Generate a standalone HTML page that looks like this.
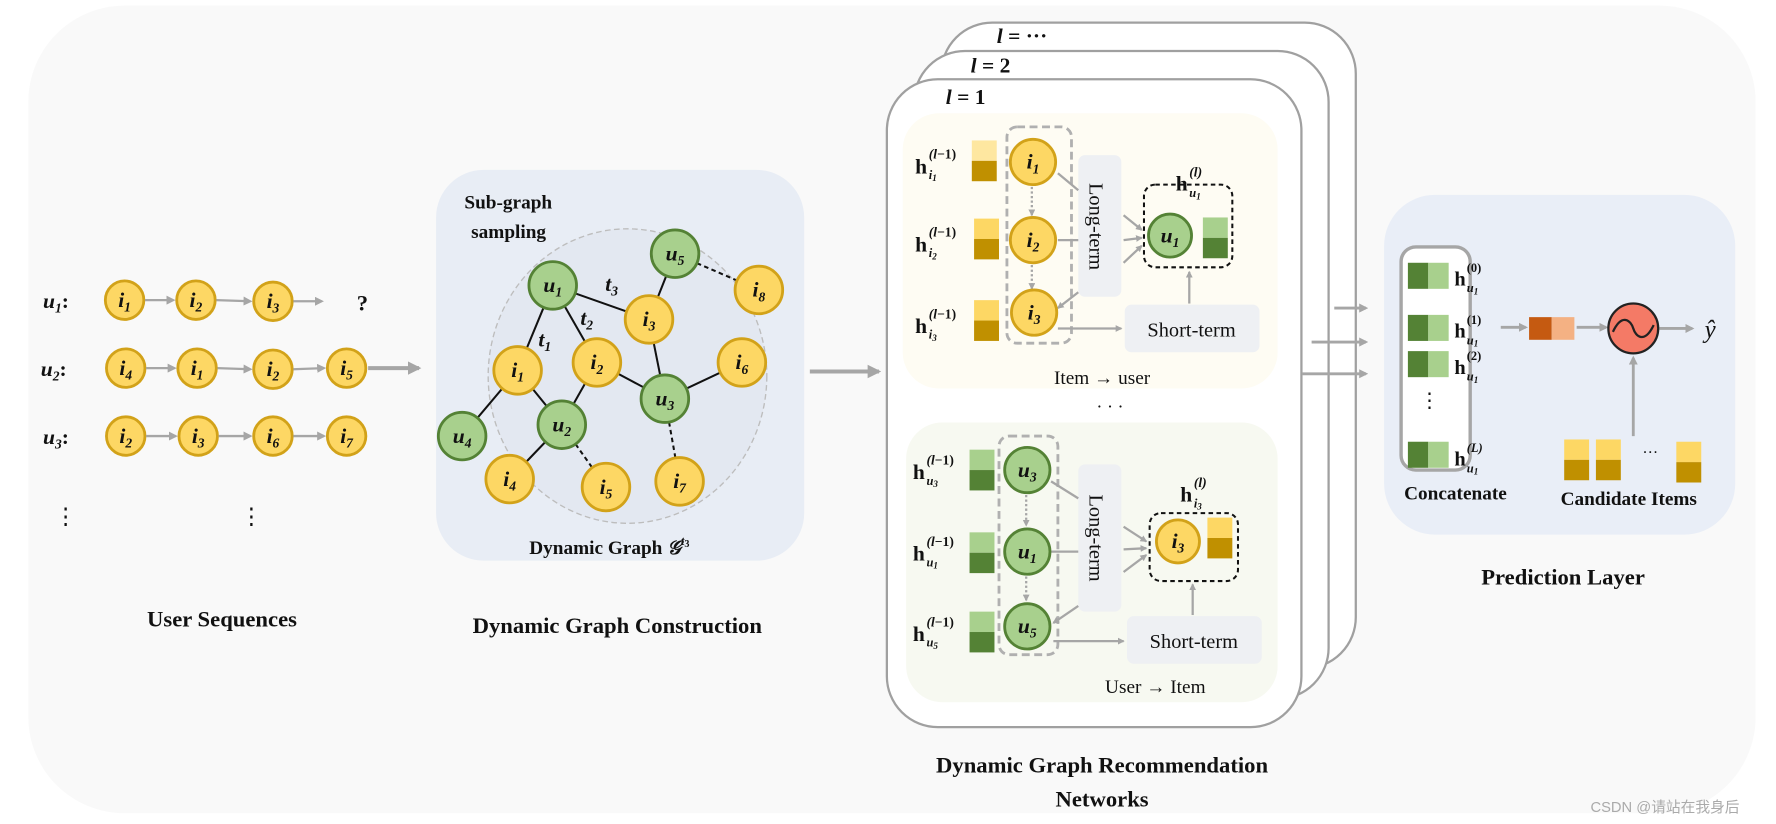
<!DOCTYPE html>
<html><head><meta charset="utf-8"><style>
html,body{margin:0;padding:0;background:#fff;}
svg{display:block;}
text{font-family:"Liberation Serif",serif;fill:#111;}
.b{font-weight:bold;}
.n{font-weight:bold;font-style:italic;font-size:19px;}
.s{font-size:12px;}
.t{font-size:20px;font-weight:bold;}
.g{stroke:#a6a6a6;stroke-width:2;fill:none;}
</style></head><body>
<svg width="1776" height="824" viewBox="0 0 1568 727.5" preserveAspectRatio="none" xmlns="http://www.w3.org/2000/svg">
<defs>
<marker id="a" markerWidth="8" markerHeight="8" refX="6" refY="4" orient="auto" markerUnits="userSpaceOnUse"><path d="M0,0 L8,4 L0,8 z" fill="#a6a6a6"/></marker>
<marker id="A" markerWidth="12" markerHeight="12" refX="10" refY="6" orient="auto" markerUnits="userSpaceOnUse"><path d="M0,0 L12,6 L0,12 z" fill="#a6a6a6"/></marker>
<marker id="d" markerWidth="6" markerHeight="6" refX="5" refY="3" orient="auto" markerUnits="userSpaceOnUse"><path d="M0,0 L6,3 L0,6 z" fill="#a6a6a6"/></marker>
</defs>
<rect x="25" y="5" width="1525" height="713" rx="85" fill="#f9f9f9"/>

<!-- User sequences -->
<g>
<text x="38" y="272" class="n">u<tspan class="s" dy="4">1</tspan><tspan dy="-4" font-style="normal">:</tspan></text>
<text x="36" y="332" class="n">u<tspan class="s" dy="4">2</tspan><tspan dy="-4" font-style="normal">:</tspan></text>
<text x="38" y="392" class="n">u<tspan class="s" dy="4">3</tspan><tspan dy="-4" font-style="normal">:</tspan></text>
<g fill="#fdd764" stroke="#d2a219" stroke-width="2.5">
<circle cx="110" cy="265" r="17"/><circle cx="173" cy="265" r="17"/><circle cx="241" cy="266" r="17"/>
<circle cx="111" cy="325" r="17"/><circle cx="174" cy="325" r="17"/><circle cx="241" cy="326" r="17"/><circle cx="306" cy="325" r="17"/>
<circle cx="111" cy="385" r="17"/><circle cx="175" cy="385" r="17"/><circle cx="241" cy="385" r="17"/><circle cx="306" cy="385" r="17"/>
</g>
<g class="g" stroke-width="1.8">
<line x1="128" y1="265" x2="153" y2="265" marker-end="url(#a)"/><line x1="191" y1="265" x2="221" y2="266" marker-end="url(#a)"/><line x1="259" y1="266" x2="284" y2="266" marker-end="url(#a)"/>
<line x1="129" y1="325" x2="154" y2="325" marker-end="url(#a)"/><line x1="192" y1="325" x2="221" y2="326" marker-end="url(#a)"/><line x1="259" y1="326" x2="286" y2="325" marker-end="url(#a)"/>
<line x1="129" y1="385" x2="155" y2="385" marker-end="url(#a)"/><line x1="193" y1="385" x2="221" y2="385" marker-end="url(#a)"/><line x1="259" y1="385" x2="286" y2="385" marker-end="url(#a)"/>
</g>
<g text-anchor="middle">
<text x="110" y="271" class="n">i<tspan class="s" dy="4">1</tspan></text><text x="173" y="271" class="n">i<tspan class="s" dy="4">2</tspan></text><text x="241" y="272" class="n">i<tspan class="s" dy="4">3</tspan></text>
<text x="111" y="331" class="n">i<tspan class="s" dy="4">4</tspan></text><text x="174" y="331" class="n">i<tspan class="s" dy="4">1</tspan></text><text x="241" y="332" class="n">i<tspan class="s" dy="4">2</tspan></text><text x="306" y="331" class="n">i<tspan class="s" dy="4">5</tspan></text>
<text x="111" y="391" class="n">i<tspan class="s" dy="4">2</tspan></text><text x="175" y="391" class="n">i<tspan class="s" dy="4">3</tspan></text><text x="241" y="391" class="n">i<tspan class="s" dy="4">6</tspan></text><text x="306" y="391" class="n">i<tspan class="s" dy="4">7</tspan></text>
<text x="320" y="274" class="b" font-size="20">?</text>
<text x="58" y="462" font-size="20">⋮</text><text x="222" y="462" font-size="20">⋮</text>
<text x="196" y="553" class="t">User Sequences</text>
</g>
</g>
<line x1="325" y1="325" x2="370" y2="325" stroke="#a6a6a6" stroke-width="3.5" marker-end="url(#A)"/>

<!-- Graph construction -->
<rect x="385" y="150" width="325" height="345" rx="42" fill="#e8edf5"/>
<ellipse cx="554" cy="332" rx="123" ry="130" fill="#e3e8f1" stroke="#bdbdbd" stroke-dasharray="5,3" stroke-width="1.2"/>
<text x="410" y="184" class="b" font-size="17">Sub-graph</text>
<text x="416" y="210" class="b" font-size="17">sampling</text>
<g stroke="#111" stroke-width="1.8" fill="none">
<line x1="488" y1="252" x2="457" y2="327"/>
<line x1="488" y1="252" x2="527" y2="320"/>
<line x1="488" y1="252" x2="573" y2="282"/>
<line x1="596" y1="224" x2="573" y2="282"/>
<line x1="573" y1="282" x2="587" y2="352"/>
<line x1="527" y1="320" x2="587" y2="352"/>
<line x1="587" y1="352" x2="655" y2="320"/>
<line x1="457" y1="327" x2="408" y2="385"/>
<line x1="457" y1="327" x2="496" y2="375"/>
<line x1="527" y1="320" x2="496" y2="375"/>
<line x1="496" y1="375" x2="450" y2="423"/>
<line x1="596" y1="224" x2="670" y2="256" stroke-dasharray="4,3"/>
<line x1="587" y1="352" x2="600" y2="425" stroke-dasharray="4,3"/>
<line x1="496" y1="375" x2="535" y2="430" stroke-dasharray="4,3"/>
</g>
<g fill="#fdd764" stroke="#d2a219" stroke-width="2.5">
<circle cx="670" cy="256" r="21"/><circle cx="573" cy="282" r="21"/><circle cx="457" cy="327" r="21"/><circle cx="527" cy="320" r="21"/><circle cx="655" cy="320" r="21"/><circle cx="450" cy="423" r="21"/><circle cx="535" cy="430" r="21"/><circle cx="600" cy="425" r="21"/>
</g>
<g fill="#a8d08d" stroke="#548235" stroke-width="2.5">
<circle cx="488" cy="252" r="21"/><circle cx="596" cy="224" r="21"/><circle cx="587" cy="352" r="21"/><circle cx="408" cy="385" r="21"/><circle cx="496" cy="375" r="21"/>
</g>
<g text-anchor="middle">
<text x="670" y="262" class="n">i<tspan class="s" dy="4">8</tspan></text><text x="573" y="288" class="n">i<tspan class="s" dy="4">3</tspan></text><text x="457" y="333" class="n">i<tspan class="s" dy="4">1</tspan></text><text x="527" y="326" class="n">i<tspan class="s" dy="4">2</tspan></text><text x="655" y="326" class="n">i<tspan class="s" dy="4">6</tspan></text><text x="450" y="429" class="n">i<tspan class="s" dy="4">4</tspan></text><text x="535" y="436" class="n">i<tspan class="s" dy="4">5</tspan></text><text x="600" y="431" class="n">i<tspan class="s" dy="4">7</tspan></text>
<text x="488" y="258" class="n">u<tspan class="s" dy="4">1</tspan></text><text x="596" y="230" class="n">u<tspan class="s" dy="4">5</tspan></text><text x="587" y="358" class="n">u<tspan class="s" dy="4">3</tspan></text><text x="408" y="391" class="n">u<tspan class="s" dy="4">4</tspan></text><text x="496" y="381" class="n">u<tspan class="s" dy="4">2</tspan></text>
<text x="540" y="257" class="n" font-size="21">t<tspan class="s" font-size="14" dy="4">3</tspan></text>
<text x="518" y="287" class="n" font-size="21">t<tspan class="s" font-size="14" dy="4">2</tspan></text>
<text x="481" y="306" class="n" font-size="21">t<tspan class="s" font-size="14" dy="4">1</tspan></text>
<text x="538" y="489" class="b" font-size="17">Dynamic Graph <tspan font-style="italic">𝒢</tspan><tspan font-size="11" dy="-8" font-style="italic">t</tspan><tspan font-size="9" dy="2">3</tspan></text>
<text x="545" y="559" class="t">Dynamic Graph Construction</text>
</g>
<line x1="715" y1="328" x2="776" y2="328" stroke="#a6a6a6" stroke-width="3.5" marker-end="url(#A)"/>

<!-- Stacked cards -->
<rect x="831" y="20" width="366" height="570" rx="45" fill="#fff" stroke="#a0a0a0" stroke-width="2"/>
<rect x="807" y="45" width="366" height="572" rx="45" fill="#fff" stroke="#a0a0a0" stroke-width="2"/>
<rect x="783" y="70" width="366" height="572" rx="45" fill="#fff" stroke="#a0a0a0" stroke-width="2"/>
<text x="880" y="38" class="n" font-size="16">l <tspan font-style="normal">= ···</tspan></text>
<text x="857" y="64" class="n" font-size="16">l <tspan font-style="normal">= 2</tspan></text>
<text x="835" y="92" class="n" font-size="16">l <tspan font-style="normal">= 1</tspan></text>

<rect x="797" y="100" width="331" height="243" rx="32" fill="#fefcf3"/>
<rect x="800" y="373" width="328" height="247" rx="32" fill="#f7f9f1"/>

<!-- top panel -->
<g>
<text x="808" y="153" class="b" font-size="19">h</text><text x="820" y="140" font-size="12" class="b"><tspan font-style="italic">(l</tspan>−1)</text><text x="820" y="158" font-size="11" class="b" font-style="italic">i<tspan font-size="8" dy="2">1</tspan></text>
<text x="808" y="222" class="b" font-size="19">h</text><text x="820" y="209" font-size="12" class="b"><tspan font-style="italic">(l</tspan>−1)</text><text x="820" y="227" font-size="11" class="b" font-style="italic">i<tspan font-size="8" dy="2">2</tspan></text>
<text x="808" y="294" class="b" font-size="19">h</text><text x="820" y="281" font-size="12" class="b"><tspan font-style="italic">(l</tspan>−1)</text><text x="820" y="299" font-size="11" class="b" font-style="italic">i<tspan font-size="8" dy="2">3</tspan></text>
<rect x="858" y="124" width="22" height="18" fill="#fee7a0"/><rect x="858" y="142" width="22" height="18" fill="#c09000"/>
<rect x="860" y="193" width="22" height="18" fill="#fdd764"/><rect x="860" y="211" width="22" height="18" fill="#c09000"/>
<rect x="860" y="265" width="22" height="18" fill="#fdd764"/><rect x="860" y="283" width="22" height="18" fill="#c09000"/>
<rect x="889" y="112" width="57" height="191" rx="9" fill="none" stroke="#b0b0b0" stroke-width="2.5" stroke-dasharray="7,4"/>
<rect x="952" y="137" width="38" height="125" rx="6" fill="#eef0f3"/>
<text transform="translate(962,200) rotate(90)" text-anchor="middle" font-size="18">Long-term</text>
<g class="g">
<line x1="934" y1="153" x2="952" y2="168"/><line x1="934" y1="212" x2="952" y2="212"/><line x1="952" y1="258" x2="934" y2="272" marker-end="url(#d)"/>
<line x1="992" y1="190" x2="1008" y2="203" marker-end="url(#d)"/><line x1="992" y1="212" x2="1008" y2="210" marker-end="url(#d)"/><line x1="992" y1="232" x2="1008" y2="217" marker-end="url(#d)"/>
<line x1="934" y1="290" x2="990" y2="290" marker-end="url(#d)"/>
<line x1="1050" y1="268" x2="1050" y2="240" marker-end="url(#d)"/>
<line x1="911" y1="165" x2="911" y2="190" stroke-dasharray="2,2" marker-end="url(#d)"/>
<line x1="911" y1="234" x2="911" y2="255" stroke-dasharray="2,2" marker-end="url(#d)"/>
</g>
<g fill="#fdd764" stroke="#d2a219" stroke-width="2.5"><circle cx="912" cy="143" r="20"/><circle cx="912" cy="212" r="20"/><circle cx="913" cy="276" r="20"/></g>
<text x="912" y="149" class="n" text-anchor="middle">i<tspan class="s" dy="4">1</tspan></text>
<text x="912" y="218" class="n" text-anchor="middle">i<tspan class="s" dy="4">2</tspan></text>
<text x="913" y="282" class="n" text-anchor="middle">i<tspan class="s" dy="4">3</tspan></text>
<rect x="1010" y="163" width="78" height="73" rx="10" fill="none" stroke="#111" stroke-width="1.8" stroke-dasharray="4,3"/>
<circle cx="1033" cy="208" r="19" fill="#a8d08d" stroke="#548235" stroke-width="2.5"/>
<text x="1033" y="214" class="n" text-anchor="middle">u<tspan class="s" dy="4">1</tspan></text>
<rect x="1062" y="192" width="22" height="18" fill="#a8d08d"/><rect x="1062" y="210" width="22" height="18" fill="#548235"/>
<text x="1038" y="168" class="b" font-size="19">h</text><text x="1050" y="156" font-size="12" class="b" font-style="italic">(l)</text><text x="1050" y="174" font-size="11" class="b" font-style="italic">u<tspan font-size="8" dy="2">1</tspan></text>
<rect x="993" y="269" width="119" height="42" rx="6" fill="#eef0f3"/>
<text x="1052" y="297" text-anchor="middle" font-size="18">Short-term</text>
<text x="973" y="339" text-anchor="middle" font-size="17">Item → user</text>
<text x="980" y="364" text-anchor="middle" font-size="16">· · ·</text>
</g>

<!-- bottom panel -->
<g>
<text x="806" y="423" class="b" font-size="19">h</text><text x="818" y="410" font-size="12" class="b"><tspan font-style="italic">(l</tspan>−1)</text><text x="818" y="428" font-size="11" class="b" font-style="italic">u<tspan font-size="8" dy="2">3</tspan></text>
<text x="806" y="495" class="b" font-size="19">h</text><text x="818" y="482" font-size="12" class="b"><tspan font-style="italic">(l</tspan>−1)</text><text x="818" y="500" font-size="11" class="b" font-style="italic">u<tspan font-size="8" dy="2">1</tspan></text>
<text x="806" y="566" class="b" font-size="19">h</text><text x="818" y="553" font-size="12" class="b"><tspan font-style="italic">(l</tspan>−1)</text><text x="818" y="571" font-size="11" class="b" font-style="italic">u<tspan font-size="8" dy="2">5</tspan></text>
<rect x="856" y="397" width="22" height="18" fill="#a8d08d"/><rect x="856" y="415" width="22" height="18" fill="#548235"/>
<rect x="856" y="470" width="22" height="18" fill="#a8d08d"/><rect x="856" y="488" width="22" height="18" fill="#548235"/>
<rect x="856" y="540" width="22" height="18" fill="#a8d08d"/><rect x="856" y="558" width="22" height="18" fill="#548235"/>
<rect x="882" y="385" width="52" height="193" rx="9" fill="none" stroke="#b0b0b0" stroke-width="2.5" stroke-dasharray="7,4"/>
<rect x="952" y="410" width="38" height="130" rx="6" fill="#eef0f3"/>
<text transform="translate(962,475) rotate(90)" text-anchor="middle" font-size="18">Long-term</text>
<g class="g">
<line x1="928" y1="425" x2="952" y2="440"/><line x1="928" y1="487" x2="952" y2="487"/><line x1="952" y1="535" x2="930" y2="550" marker-end="url(#d)"/>
<line x1="992" y1="465" x2="1012" y2="478" marker-end="url(#d)"/><line x1="992" y1="485" x2="1012" y2="484" marker-end="url(#d)"/><line x1="992" y1="505" x2="1012" y2="490" marker-end="url(#d)"/>
<line x1="930" y1="566" x2="992" y2="566" marker-end="url(#d)"/>
<line x1="1053" y1="543" x2="1053" y2="516" marker-end="url(#d)"/>
<line x1="906" y1="437" x2="906" y2="464" stroke-dasharray="2,2" marker-end="url(#d)"/>
<line x1="906" y1="509" x2="906" y2="530" stroke-dasharray="2,2" marker-end="url(#d)"/>
</g>
<g fill="#a8d08d" stroke="#548235" stroke-width="2.5"><circle cx="907" cy="415" r="20"/><circle cx="907" cy="487" r="20"/><circle cx="907" cy="553" r="20"/></g>
<text x="907" y="421" class="n" text-anchor="middle">u<tspan class="s" dy="4">3</tspan></text>
<text x="907" y="493" class="n" text-anchor="middle">u<tspan class="s" dy="4">1</tspan></text>
<text x="907" y="559" class="n" text-anchor="middle">u<tspan class="s" dy="4">5</tspan></text>
<rect x="1015" y="453" width="78" height="60" rx="10" fill="none" stroke="#111" stroke-width="1.8" stroke-dasharray="4,3"/>
<circle cx="1040" cy="478" r="19" fill="#fdd764" stroke="#d2a219" stroke-width="2.5"/>
<text x="1040" y="484" class="n" text-anchor="middle">i<tspan class="s" dy="4">3</tspan></text>
<rect x="1066" y="457" width="22" height="18" fill="#fdd764"/><rect x="1066" y="475" width="22" height="18" fill="#c09000"/>
<text x="1042" y="443" class="b" font-size="19">h</text><text x="1054" y="430" font-size="12" class="b" font-style="italic">(l)</text><text x="1054" y="448" font-size="11" class="b" font-style="italic">i<tspan font-size="8" dy="2">3</tspan></text>
<rect x="995" y="544" width="119" height="42" rx="6" fill="#eef0f3"/>
<text x="1054" y="572" text-anchor="middle" font-size="18">Short-term</text>
<text x="1020" y="612" text-anchor="middle" font-size="17">User → Item</text>
</g>
<text x="973" y="682" text-anchor="middle" class="t">Dynamic Graph Recommendation</text>
<text x="973" y="712" text-anchor="middle" class="t">Networks</text>

<g stroke="#a6a6a6" stroke-width="2.5">
<line x1="1178" y1="272" x2="1206" y2="272" marker-end="url(#a)"/>
<line x1="1158" y1="302" x2="1206" y2="302" marker-end="url(#a)"/>
<line x1="1150" y1="330" x2="1206" y2="330" marker-end="url(#a)"/>
</g>

<!-- Prediction layer -->
<rect x="1222" y="172" width="310" height="300" rx="45" fill="#e9eef7"/>
<rect x="1237" y="218" width="61" height="197" rx="13" fill="#fff" stroke="#a6a6a6" stroke-width="3"/>
<g>
<rect x="1243" y="232" width="18" height="23" fill="#548235"/><rect x="1261" y="232" width="18" height="23" fill="#a8d08d"/>
<rect x="1243" y="278" width="18" height="23" fill="#548235"/><rect x="1261" y="278" width="18" height="23" fill="#a8d08d"/>
<rect x="1243" y="310" width="18" height="23" fill="#548235"/><rect x="1261" y="310" width="18" height="23" fill="#a8d08d"/>
<rect x="1243" y="390" width="18" height="23" fill="#548235"/><rect x="1261" y="390" width="18" height="23" fill="#a8d08d"/>
</g>
<g class="b">
<text x="1284" y="252" font-size="18">h</text><text x="1295" y="240" font-size="11">(0)</text><text x="1295" y="258" font-size="11" font-style="italic">u<tspan font-size="8" dy="2">1</tspan></text>
<text x="1284" y="298" font-size="18">h</text><text x="1295" y="286" font-size="11">(1)</text><text x="1295" y="304" font-size="11" font-style="italic">u<tspan font-size="8" dy="2">1</tspan></text>
<text x="1284" y="330" font-size="18">h</text><text x="1295" y="318" font-size="11">(2)</text><text x="1295" y="336" font-size="11" font-style="italic">u<tspan font-size="8" dy="2">1</tspan></text>
<text x="1284" y="411" font-size="18">h</text><text x="1295" y="399" font-size="11" font-style="italic">(L)</text><text x="1295" y="417" font-size="11" font-style="italic">u<tspan font-size="8" dy="2">1</tspan></text>
</g>
<text x="1262" y="360" font-size="18" text-anchor="middle">⋮</text>
<text x="1285" y="441" class="b" font-size="17" text-anchor="middle">Concatenate</text>
<g stroke="#a6a6a6" stroke-width="2.5">
<line x1="1325" y1="289" x2="1347" y2="289" marker-end="url(#a)"/>
<line x1="1392" y1="289" x2="1418" y2="289" marker-end="url(#a)"/>
<line x1="1465" y1="290" x2="1494" y2="290" marker-end="url(#a)"/>
<line x1="1442" y1="385" x2="1442" y2="316" marker-end="url(#a)"/>
</g>
<rect x="1350" y="280" width="20" height="20" fill="#c55a11"/><rect x="1370" y="280" width="20" height="20" fill="#f4b183"/>
<circle cx="1442" cy="290" r="22" fill="#f47a66" stroke="#222" stroke-width="2"/>
<path d="M1424,293 C1432,276 1440,283 1442,290 C1444,297 1452,304 1460,287" fill="none" stroke="#222" stroke-width="2"/>
<text x="1505" y="298" font-size="22" font-style="italic">ŷ</text>
<rect x="1381" y="388" width="22" height="18" fill="#fdd764"/><rect x="1381" y="406" width="22" height="18" fill="#c09000"/>
<rect x="1409" y="388" width="22" height="18" fill="#fdd764"/><rect x="1409" y="406" width="22" height="18" fill="#c09000"/>
<rect x="1480" y="390" width="22" height="18" fill="#fdd764"/><rect x="1480" y="408" width="22" height="18" fill="#c09000"/>
<text x="1457" y="404" font-size="14" text-anchor="middle">···</text>
<text x="1438" y="446" class="b" font-size="17" text-anchor="middle">Candidate Items</text>
<text x="1380" y="516" class="t" text-anchor="middle">Prediction Layer</text>

<text x="1470" y="717" font-size="13" text-anchor="middle" style="font-family:'Liberation Sans','Noto Sans CJK SC',sans-serif;fill:#aaa">CSDN @请站在我身后</text>
</svg>
</body></html>
